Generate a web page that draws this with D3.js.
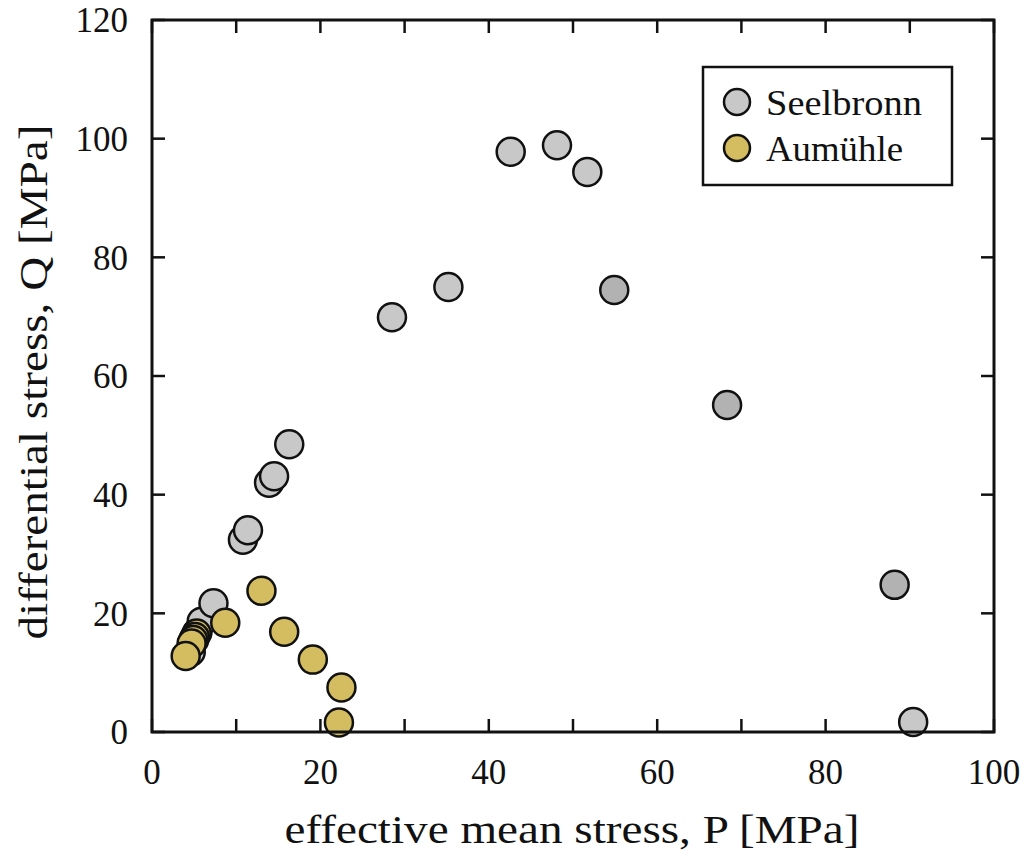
<!DOCTYPE html>
<html>
<head>
<meta charset="utf-8">
<script src="https://cdn.jsdelivr.net/npm/d3@7"></script>
<style>
  html, body { margin: 0; padding: 0; background: #fff; }
  text { font-family: "Liberation Serif", "DejaVu Serif", serif; fill: #111; }
</style>
</head>
<body>
<svg id="chart" width="1022" height="854"></svg>
<script>
// ---- data ----
const seriesNames = ["Seelbronn", "Aumühle"];
const seelbronnP = [4.6, 5.0, 5.4, 5.9, 7.3, 10.8, 11.4, 13.9, 14.5, 16.3, 28.5, 35.2, 42.6, 48.1, 51.7, 54.9, 68.3, 88.2, 90.4];
const seelbronnQ = [13.5, 15.5, 16.8, 18.6, 21.7, 32.4, 34.0, 42.0, 43.1, 48.5, 69.9, 75.0, 97.8, 98.9, 94.4, 74.5, 55.1, 24.8, 1.7];
const seelbronnShade = ["light","light","light","light","light","light","light","light","light","light","light","light","light","light","light","dark","dark","dark","light"];
const aumuhleP = [5.3, 5.1, 4.9, 4.7, 4.0, 8.7, 13.0, 15.7, 19.1, 22.5, 22.2];
const aumuhleQ = [16.6, 16.0, 15.5, 14.9, 12.8, 18.4, 23.8, 16.9, 12.2, 7.5, 1.6];
const xTicks = [0, 20, 40, 60, 80, 100];
const yTicks = [0, 20, 40, 60, 80, 100, 120];

// ---- layout ----
const svg = d3.select("#chart");
const L = 152, R = 994, T = 20, B = 732;
const x = d3.scaleLinear().domain([0, 100]).range([L, R]);
const y = d3.scaleLinear().domain([0, 120]).range([B, T]);
const fillGray = { light: "#c8c8c8", dark: "#b2b2b2" };
const fillYellow = "#d4bd60";
const stroke = "#111";
const rad = 14;
const tickLen = 13;

// ticks inward on all four sides
const xMinor = d3.range(0, 101, 10);
const yMinor = d3.range(0, 121, 20);
const tg = svg.append("g").attr("stroke", stroke).attr("stroke-width", 2.5);
xMinor.forEach(v => {
  tg.append("line").attr("x1", x(v)).attr("x2", x(v)).attr("y1", B).attr("y2", B - tickLen);
  tg.append("line").attr("x1", x(v)).attr("x2", x(v)).attr("y1", T).attr("y2", T + tickLen);
});
yMinor.forEach(v => {
  tg.append("line").attr("y1", y(v)).attr("y2", y(v)).attr("x1", L).attr("x2", L + tickLen);
  tg.append("line").attr("y1", y(v)).attr("y2", y(v)).attr("x1", R).attr("x2", R - tickLen);
});

// tick labels
svg.append("g").selectAll("text").data(xTicks).join("text")
  .attr("x", d => x(d)).attr("y", 784)
  .attr("text-anchor", "middle").attr("font-size", 35)
  .text(d => d);
svg.append("g").selectAll("text").data(yTicks).join("text")
  .attr("x", 128).attr("y", d => y(d)).attr("dy", "0.35em")
  .attr("text-anchor", "end").attr("font-size", 35)
  .text(d => d);

// axis titles
svg.append("text").attr("x", 572).attr("y", 843)
  .attr("text-anchor", "middle").attr("font-size", 40)
  .attr("textLength", 575).attr("lengthAdjust", "spacingAndGlyphs")
  .text("effective mean stress, P [MPa]");
svg.append("text").attr("transform", `translate(47,382) rotate(-90)`)
  .attr("text-anchor", "middle").attr("font-size", 40)
  .attr("textLength", 515).attr("lengthAdjust", "spacingAndGlyphs")
  .text("differential stress, Q [MPa]");

// points
const seel = seelbronnP.map((p, i) => ({ p, q: seelbronnQ[i], s: seelbronnShade[i] }));
const aum = aumuhleP.map((p, i) => ({ p, q: aumuhleQ[i] }));
svg.append("g").selectAll("circle").data(seel).join("circle")
  .attr("cx", d => x(d.p)).attr("cy", d => y(d.q)).attr("r", rad)
  .attr("fill", d => fillGray[d.s]).attr("stroke", stroke).attr("stroke-width", 2.5);
svg.append("g").selectAll("circle").data(aum).join("circle")
  .attr("cx", d => x(d.p)).attr("cy", d => y(d.q)).attr("r", rad)
  .attr("fill", fillYellow).attr("stroke", stroke).attr("stroke-width", 2.5);

// frame
svg.append("rect").attr("x", L).attr("y", T).attr("width", R - L).attr("height", B - T)
  .attr("fill", "none").attr("stroke", stroke).attr("stroke-width", 3);

// legend
const lg = svg.append("g");
lg.append("rect").attr("x", 703).attr("y", 67).attr("width", 249).attr("height", 118)
  .attr("fill", "#fff").attr("stroke", stroke).attr("stroke-width", 2.5);
const legFills = [fillGray.light, fillYellow];
const legWidths = [156, 137];
seriesNames.forEach((n, i) => {
  const cy = 102 + i * 46;
  lg.append("circle").attr("cx", 737).attr("cy", cy).attr("r", 13)
    .attr("fill", legFills[i]).attr("stroke", stroke).attr("stroke-width", 2.5);
  lg.append("text").attr("x", 766).attr("y", cy).attr("dy", "0.35em")
    .attr("font-size", 36).attr("textLength", legWidths[i]).attr("lengthAdjust", "spacingAndGlyphs")
    .text(n);
});
</script>
</body>
</html>
